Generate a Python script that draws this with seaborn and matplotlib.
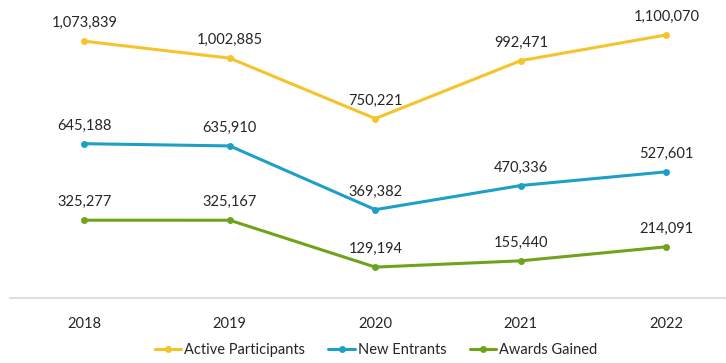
import matplotlib
matplotlib.use("Agg")
import matplotlib.pyplot as plt
import seaborn as sns
import pandas as pd

years = ["2018", "2019", "2020", "2021", "2022"]
active_participants = [1073839, 1002885, 750221, 992471, 1100070]
new_entrants = [645188, 635910, 369382, 470336, 527601]
awards_gained = [325277, 325167, 129194, 155440, 214091]
series_names = ["Active Participants", "New Entrants", "Awards Gained"]
colors = ["#F5C32C", "#1D9FC7", "#6FA31C"]

sns.set_theme(style="white")
plt.rcParams["font.family"] = ["Lato", "DejaVu Sans"]

rows = []
for name, vals in zip(series_names, [active_participants, new_entrants, awards_gained]):
    for i, (yr, v) in enumerate(zip(years, vals)):
        rows.append({"pos": i, "year": yr, "value": v, "series": name})
df = pd.DataFrame(rows)

fig = plt.figure(figsize=(7.26, 3.63), dpi=100)
ax = fig.add_axes([10 / 726, 1 - 298 / 363, 716 / 726, 298 / 363])

sns.lineplot(data=df, x="pos", y="value", hue="series", hue_order=series_names,
             palette=colors, marker="o", markersize=5, markeredgewidth=0,
             linewidth=2.2, ax=ax, legend=True)

for _, r in df.iterrows():
    ax.annotate(f"{r['value']:,}", (r["pos"], r["value"]), xytext=(0, 13),
                textcoords="offset points", ha="center", va="center",
                fontsize=10.5, color="#262626")

ax.set_xlim(-0.51, 4.41)
ax.set_ylim(0, 1246000)
ax.set_xticks(range(len(years)))
ax.set_xticklabels(years, fontsize=10.5, color="#262626")
ax.tick_params(axis="x", length=0, pad=14)
ax.set_yticks([])
ax.set_xlabel("")
ax.set_ylabel("")
for s in ["top", "right", "left"]:
    ax.spines[s].set_visible(False)
ax.spines["bottom"].set_color("#D9D9D9")
ax.spines["bottom"].set_linewidth(1.2)

leg = ax.legend(loc="center", bbox_to_anchor=(376 / 726, 1 - 350 / 363),
                bbox_transform=fig.transFigure, ncol=3, frameon=False,
                fontsize=10.5, handlelength=1.8, handletextpad=0.2,
                columnspacing=1.6, borderaxespad=0)
for t in leg.get_texts():
    t.set_color("#262626")

fig.savefig("out.png", dpi=100)
